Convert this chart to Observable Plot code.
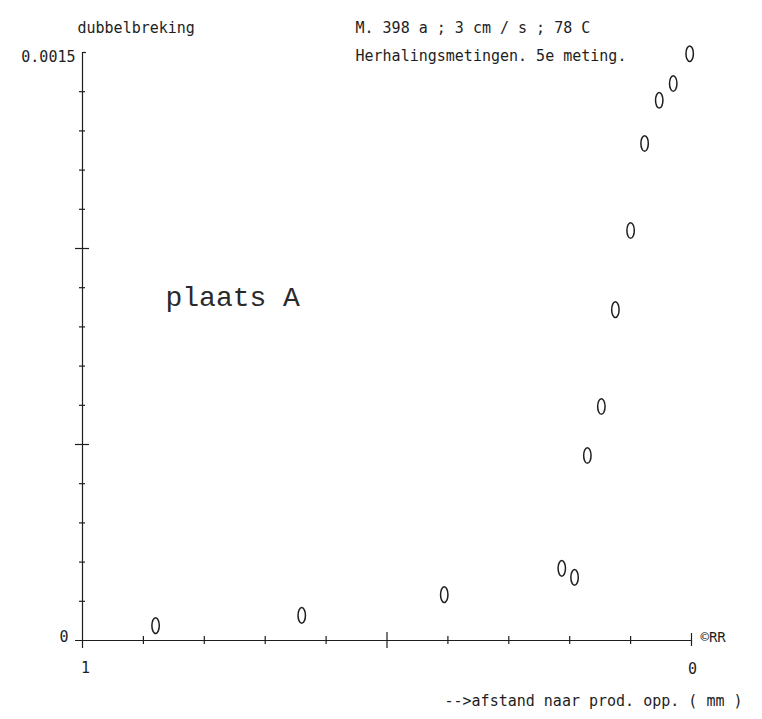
<!DOCTYPE html>
<html>
<head>
<meta charset="utf-8">
<script src="https://cdn.jsdelivr.net/npm/d3@7"></script>
<script src="https://cdn.jsdelivr.net/npm/@observablehq/plot@0.6"></script>
<style>
  html, body { margin: 0; padding: 0; background: #fff; }
  #chart svg { display: block; }
</style>
</head>
<body>
<div id="chart"></div>
<script>
// ---- data ----
const afstand = [0.880, 0.640, 0.406, 0.213, 0.192, 0.171, 0.148, 0.125, 0.100, 0.077, 0.053, 0.030, 0.003];
const dubbelbreking = [0.000038, 0.000064, 0.000117, 0.000184, 0.000161, 0.000472, 0.000597, 0.000844, 0.001046, 0.001268, 0.001378, 0.001421, 0.001497];

// ---- ticks and labels ----
const yMinorTicks = [0.0001, 0.0002, 0.0003, 0.0004, 0.0006, 0.0007, 0.0008, 0.0009, 0.0011, 0.0012, 0.0013, 0.0014];
const yMajorTicks = [0.0005, 0.0010];
const yTopTick = [0.0015];
const xMinorTicks = [0.9, 0.8, 0.7, 0.6, 0.4, 0.3, 0.2, 0.1];
const xMajorTicks = [0.5];
const xEndTick = [0];
const yTickLabelTop = [{value: 0.0015, label: "0.0015"}];
const yTickLabelBottom = [{value: 0, label: "0"}];
const xTickLabelLeft = [{value: 1, label: "1"}];
const xTickLabelRight = [{value: 0, label: "0"}];

const yTitle = "dubbelbreking";
const titleLine1 = "M. 398 a ; 3 cm / s ; 78 C";
const titleLine2 = "Herhalingsmetingen. 5e meting.";
const annotation = "plaats A";
const xTitle = "-->afstand naar prod. opp. ( mm )";
const signature = "©RR";

const data = afstand.map((x, i) => ({x, y: dubbelbreking[i]}));

// narrow upright oval, like the plotter's "0" marker
const oval = {
  draw(context) {
    const rx = 3.7, ry = 7.8, k = 0.5523;
    context.moveTo(rx, 0);
    context.bezierCurveTo(rx, k * ry, k * rx, ry, 0, ry);
    context.bezierCurveTo(-k * rx, ry, -rx, k * ry, -rx, 0);
    context.bezierCurveTo(-rx, -k * ry, -k * rx, -ry, 0, -ry);
    context.bezierCurveTo(k * rx, -ry, rx, -k * ry, rx, 0);
    context.closePath();
  }
};

const ink = "#1e1e1e";
const font = "DejaVu Sans Mono, Liberation Mono, monospace";
const txt = {fontFamily: font, fontSize: 15, fill: ink, lineAnchor: "middle"};

const W = 762, H = 719;
const frameH = 719 - 52 - 79, frameW = 762 - 82 - 71;

const chart = Plot.plot({
  width: W,
  height: H,
  marginLeft: 82,
  marginRight: 71,
  marginTop: 52,
  marginBottom: 79,
  style: {background: "#fff", fontFamily: font},
  x: {domain: [1, 0], axis: null},
  y: {domain: [0, 0.0015], axis: null},
  marks: [
    // axis lines
    Plot.ruleX([1], {stroke: ink, strokeWidth: 1.2, insetBottom: -8}),
    Plot.ruleY([0], {stroke: ink, strokeWidth: 1.2, insetLeft: -7}),
    // y ticks crossing the axis
    Plot.ruleY(yMinorTicks, {y: d => d, stroke: ink, strokeWidth: 1.2, insetLeft: -3, insetRight: frameW - 3}),
    Plot.ruleY(yMajorTicks, {y: d => d, stroke: ink, strokeWidth: 1.2, insetLeft: -7, insetRight: frameW - 7}),
    Plot.ruleY(yTopTick, {y: d => d, stroke: ink, strokeWidth: 1.2, insetLeft: 0, insetRight: frameW - 4}),
    // x ticks crossing the axis
    Plot.ruleX(xMinorTicks, {x: d => d, stroke: ink, strokeWidth: 1.2, insetTop: frameH - 4, insetBottom: -4}),
    Plot.ruleX(xMajorTicks, {x: d => d, stroke: ink, strokeWidth: 1.2, insetTop: frameH - 8, insetBottom: -8}),
    Plot.ruleX(xEndTick, {x: d => d, stroke: ink, strokeWidth: 1.2, insetTop: frameH - 7, insetBottom: -6}),
    // tick labels
    Plot.text(yTickLabelTop, {...txt, y: "value", text: "label", frameAnchor: "left", textAnchor: "end", dx: -7, dy: 5}),
    Plot.text(yTickLabelBottom, {...txt, y: "value", text: "label", frameAnchor: "left", textAnchor: "end", dx: -14, dy: -3}),
    Plot.text(xTickLabelLeft, {...txt, x: "value", text: "label", frameAnchor: "bottom", dx: 3, dy: 28}),
    Plot.text(xTickLabelRight, {...txt, x: "value", text: "label", frameAnchor: "bottom", dx: 1, dy: 29}),
    // titles and annotations
    Plot.text([yTitle], {...txt, frameAnchor: "top-left", textAnchor: "start", dx: -5, dy: -24}),
    Plot.text([titleLine1], {...txt, frameAnchor: "top-left", textAnchor: "start", dx: 273, dy: -24}),
    Plot.text([titleLine2], {...txt, frameAnchor: "top-left", textAnchor: "start", dx: 273, dy: 4}),
    Plot.text([annotation], {fontFamily: "Liberation Mono, Courier New, monospace", fontSize: 28, fill: "#2a2a2a", lineAnchor: "middle", frameAnchor: "top-left", textAnchor: "start", dx: 83, dy: 245}),
    Plot.text([signature], {...txt, fontSize: 14, frameAnchor: "bottom-right", textAnchor: "start", dx: 9, dy: -3}),
    Plot.text([xTitle], {...txt, frameAnchor: "bottom-right", textAnchor: "end", dx: 51, dy: 61}),
    // data points
    Plot.dot(data, {x: "x", y: "y", symbol: oval, stroke: ink, strokeWidth: 1.5, fill: "none"})
  ]
});

document.getElementById("chart").appendChild(chart);
</script>
</body>
</html>
